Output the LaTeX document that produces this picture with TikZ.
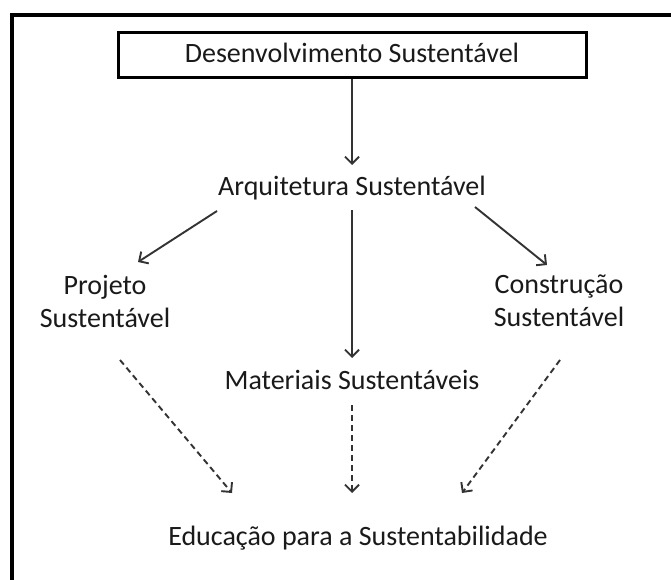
\documentclass[tikz,border=0pt]{standalone}
\usepackage{fontspec}
\setmainfont{Carlito}
\usetikzlibrary{arrows.meta,calc}
\definecolor{txt}{HTML}{1A1A1A}
\definecolor{arrc}{HTML}{333333}
\tikzset{
  lbl/.style={font=\fontsize{28}{33}\selectfont, text=txt, align=center,
    text height=20pt, text depth=6pt, inner xsep=2pt, inner ysep=10pt},
  lbltwo/.style={font=\fontsize{28}{33}\selectfont, text=txt, align=center,
    inner xsep=2pt, inner ysep=0pt},
  topbox/.style={lbl, draw=black, line width=3pt, minimum width=468pt, minimum height=45pt, inner ysep=0pt},
  arr/.style={draw=arrc, line width=1.9pt, -{Straight Barb[length=7pt,width=14pt,line width=1.9pt]}},
  darr/.style={arr, dash pattern=on 6pt off 4pt},
  frame/.style={draw=black, line width=3.2pt}
}
\begin{document}
\begin{tikzpicture}[x=1pt,y=-1pt]
\useasboundingbox (0,0) rectangle (671,580);
\fill[white] (0,0) rectangle (671,580);
\coordinate (fb) at (12,580);
\coordinate (fc) at (12,15);
\coordinate (fr) at (671,15);
\draw[frame, line join=miter] (fb) -- (fc) -- (fr);

\node[topbox] (top) at (352,55.5) {Desenvolvimento Sustentável};
\node[lbl] (arq) at (352,188) {Arquitetura Sustentável};
\node[lbltwo] (proj) at (105,301) {Projeto\\Sustentável};
\node[lbltwo] (constr) at (559,301) {Construção\\Sustentável};
\node[lbl] (mat) at (352,382) {Materiais Sustentáveis};
\node[lbl] (edu) at (358,538) {Educação para a Sustentabilidade};

\draw[arr] (top.south) -- ($(arq.center)+(0,-23)$);
\draw[arr] ($(arq.center)+(-135,23)$) -- ($(proj.center)+(33,-39)$);
\draw[arr] ($(arq.center)+(123,19)$) -- ($(constr.center)+(-12,-36)$);
\draw[arr] ($(arq.center)+(0,22)$) -- ($(mat.center)+(0,-24)$);
\draw[darr] ($(proj.center)+(15,59)$) -- ($(edu.center)+(-126,-45)$);
\draw[darr] ($(mat.center)+(0,23)$) -- ($(edu.center)+(-6,-45)$);
\draw[darr] ($(constr.center)+(1,59)$) -- ($(edu.center)+(104,-45)$);
\end{tikzpicture}
\end{document}
